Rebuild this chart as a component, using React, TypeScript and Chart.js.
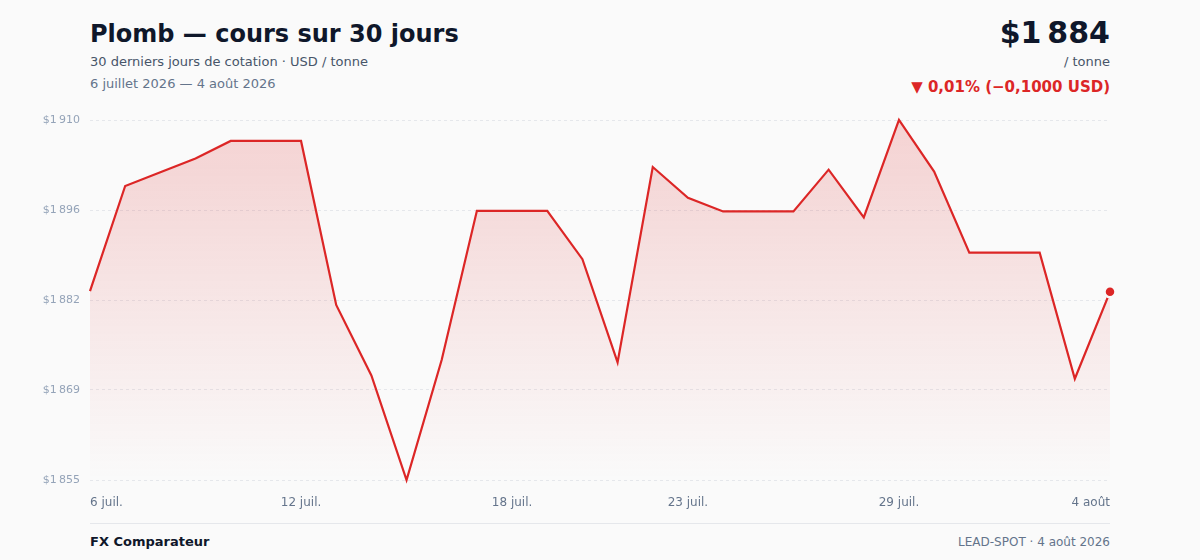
import React, { useEffect, useRef } from "react";
import { Chart, registerables } from "chart.js";

Chart.register(...registerables);

const CATEGORIES: string[] = [
  "6 juil.", "7 juil.", "8 juil.", "9 juil.", "10 juil.", "11 juil.", "12 juil.", "13 juil.",
  "14 juil.", "15 juil.", "16 juil.", "17 juil.", "18 juil.", "19 juil.", "20 juil.", "21 juil.",
  "22 juil.", "23 juil.", "24 juil.", "25 juil.", "26 juil.", "27 juil.", "28 juil.", "29 juil.",
  "30 juil.", "31 juil.", "1 août", "2 août", "3 août", "4 août",
];

const PRICES: number[] = [
  1883.8, 1899.9, 1902.0, 1904.1, 1906.8, 1906.8, 1906.8, 1881.7,
  1870.9, 1854.9, 1873.3, 1896.1, 1896.1, 1896.1, 1888.7, 1872.9,
  1902.8, 1898.1, 1896.0, 1896.0, 1896.0, 1902.4, 1895.1, 1910.0,
  1902.1, 1889.7, 1889.7, 1889.7, 1870.4, 1883.7,
];

const X_TICK_LABELS: string[] = ["6 juil.", "12 juil.", "18 juil.", "23 juil.", "29 juil.", "4 août"];

const Y_MIN = 1854.9;
const Y_MAX = 1910.0;
const Y_TICK_COUNT = 5;

const FONT = "'DejaVu Sans', 'Noto Sans', sans-serif";
const RED = "#dc2626";
const BG = "#fafafa";

const nf = new Intl.NumberFormat("fr-FR", { maximumFractionDigits: 0 });

export default function App() {
  const canvasRef = useRef<HTMLCanvasElement | null>(null);

  useEffect(() => {
    if (!canvasRef.current) return;
    Chart.defaults.font.family = FONT;
    const last = PRICES.length - 1;
    const chart = new Chart(canvasRef.current, {
      type: "line",
      data: {
        labels: CATEGORIES,
        datasets: [
          {
            data: PRICES,
            borderColor: RED,
            borderWidth: 2.2,
            tension: 0,
            fill: "start",
            clip: false as any,
            backgroundColor: (ctx: any) => {
              const { chart } = ctx;
              const area = chart.chartArea;
              if (!area) return "rgba(220,38,38,0.1)";
              const g = chart.ctx.createLinearGradient(0, area.top, 0, area.bottom);
              g.addColorStop(0, "rgba(220,38,38,0.19)");
              g.addColorStop(1, "rgba(220,38,38,0.0)");
              return g;
            },
            pointRadius: (ctx: any) => (ctx.dataIndex === last ? 5.5 : 0),
            pointHoverRadius: (ctx: any) => (ctx.dataIndex === last ? 5.5 : 0),
            pointBackgroundColor: RED,
            pointBorderColor: BG,
            pointBorderWidth: 2.5,
          },
        ],
      },
      options: {
        animation: false,
        responsive: true,
        maintainAspectRatio: false,
        layout: { padding: { top: 20, right: 90, left: 0, bottom: 0 } },
        plugins: {
          legend: { display: false },
          tooltip: { enabled: false },
        },
        scales: {
          x: {
            grid: { display: false, drawTicks: false },
            border: { display: false },
            afterFit: (scale: any) => {
              scale.height = 35;
            },
            ticks: {
              autoSkip: false,
              maxRotation: 0,
              minRotation: 0,
              align: "inner",
              padding: 16,
              color: "#64748b",
              font: { size: 12, family: FONT },
              callback: function (this: any, _v: any, i: number) {
                const lab = CATEGORIES[i];
                return X_TICK_LABELS.includes(lab) ? lab : "";
              },
            },
          },
          y: {
            min: Y_MIN,
            max: Y_MAX,
            grid: {
              color: "#e5e7eb",
              lineWidth: 1,
              drawTicks: false,
            },
            border: { display: false, dash: [3, 3] },
            afterFit: (scale: any) => {
              scale.width = 90;
            },
            ticks: {
              count: Y_TICK_COUNT,
              padding: 10,
              color: "#94a3b8",
              font: { size: 11, family: FONT },
              callback: (v: any) => "$" + nf.format(Math.round(Number(v))),
            },
          },
        },
      },
    });
    return () => chart.destroy();
  }, []);

  const abs = (s: React.CSSProperties): React.CSSProperties => ({
    position: "absolute",
    margin: 0,
    whiteSpace: "nowrap",
    fontFamily: FONT,
    lineHeight: 1,
    ...s,
  });

  return (
    <div
      style={{
        position: "absolute",
        left: 0,
        top: 0,
        width: 1200,
        height: 560,
        background: BG,
        overflow: "hidden",
        fontFamily: FONT,
      }}
    >
      <div style={abs({ left: 90, top: 22, fontSize: 24, fontWeight: 700, color: "#0f172a" })}>
        Plomb — cours sur 30 jours
      </div>
      <div style={abs({ left: 90, top: 55, fontSize: 13, color: "#475569" })}>
        30 derniers jours de cotation · USD / tonne
      </div>
      <div style={abs({ left: 90, top: 76.7, fontSize: 13, color: "#64748b" })}>
        6 juillet 2026 — 4 août 2026
      </div>

      <div style={abs({ right: 90, top: 18, fontSize: 30, fontWeight: 700, color: "#0f172a", textAlign: "right" })}>
        {"$1\u202F884"}
      </div>
      <div style={abs({ right: 90, top: 55, fontSize: 13, color: "#475569", textAlign: "right" })}>
        / tonne
      </div>
      <div style={abs({ right: 90, top: 79.6, fontSize: 15, fontWeight: 700, color: RED, textAlign: "right" })}>
        ▼ 0,01% (−0,1000 USD)
      </div>

      <div style={{ position: "absolute", left: 0, top: 100, width: 1200, height: 415 }}>
        <canvas ref={canvasRef} />
      </div>

      <div style={{ position: "absolute", left: 90, top: 523, width: 1020, height: 1, background: "#e5e7eb" }} />
      <div style={abs({ left: 90, top: 535, fontSize: 13, fontWeight: 700, color: "#0f172a" })}>
        FX Comparateur
      </div>
      <div style={abs({ right: 90, top: 535.8, fontSize: 12, color: "#64748b", textAlign: "right" })}>
        LEAD-SPOT · 4 août 2026
      </div>
    </div>
  );
}
